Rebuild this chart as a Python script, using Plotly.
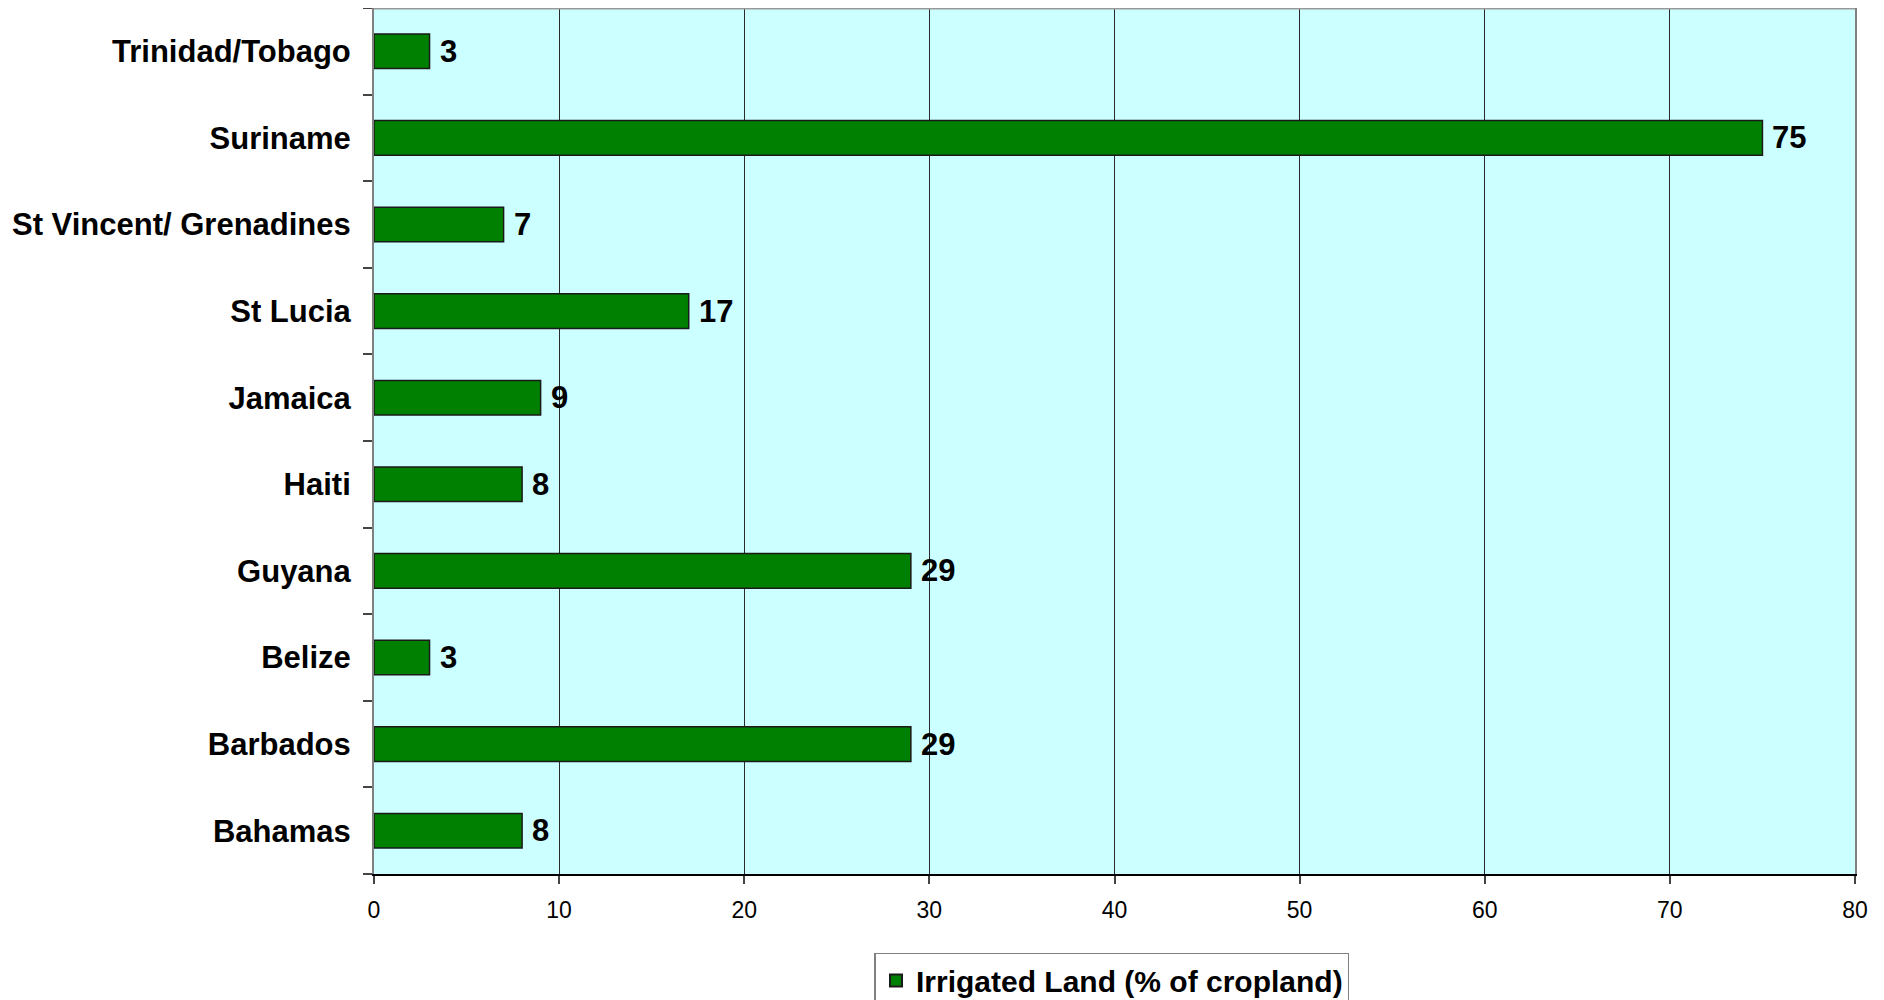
import plotly.graph_objects as go

countries = ["Bahamas", "Barbados", "Belize", "Guyana", "Haiti", "Jamaica",
             "St Lucia", "St Vincent/ Grenadines", "Suriname", "Trinidad/Tobago"]
irrigated = [8, 29, 3, 29, 8, 9, 17, 7, 75, 3]
series_name = "Irrigated Land (% of cropland)"
x_ticks = [0, 10, 20, 30, 40, 50, 60, 70, 80]

FONT = "Liberation Sans, Arial, sans-serif"

fig = go.Figure()
fig.add_trace(go.Bar(
    y=countries, x=irrigated, orientation="h", name=series_name,
    marker=dict(color="#008000", line=dict(color="#1a1a1a", width=1.5)),
    width=0.4, showlegend=True,
))

for c, v in zip(countries, irrigated):
    fig.add_annotation(x=v, y=c, text=str(v), showarrow=False, xanchor="left",
                       xshift=8, font=dict(family=FONT, size=31, color="black", weight="bold"))

fig.add_shape(type="line", xref="paper", yref="paper", x0=0, x1=1, y0=1, y1=1,
              line=dict(color="#999999", width=3))

# the page body has an 8px margin: figure is sized/offset to compensate
fig.update_layout(
    width=1876, height=992,
    margin=dict(l=366, r=29, t=0, b=126, autoexpand=False),
    paper_bgcolor="white", plot_bgcolor="#CCFFFF",
    font=dict(family=FONT, color="black"),
    showlegend=True,
    legend=dict(orientation="h", x=0.4983, xanchor="center", y=-0.0912, yanchor="top",
                bordercolor="#808080", borderwidth=1.5, bgcolor="white",
                font=dict(family=FONT, size=30, color="black", weight="bold"),
                itemsizing="constant"),
    xaxis=dict(range=[0, 80], tickvals=x_ticks, showgrid=True, gridcolor="#2a2a2a",
               gridwidth=1, showline=True, linecolor="black", linewidth=2,
               ticks="outside", ticklen=8, tickcolor="#444444", tickwidth=1.5,
               tickfont=dict(family=FONT, size=23, color="black"), zeroline=False,
               ticklabelstandoff=6),
    yaxis=dict(type="category", categoryorder="array", categoryarray=countries,
               showline=True, linecolor="#808080", linewidth=2, mirror=True,
               ticks="outside", ticklen=9, tickcolor="#444444", tickwidth=1.5,
               tickson="boundaries", showgrid=False,
               tickfont=dict(family=FONT, size=31, color="black", weight="bold"),
               ticklabelstandoff=15),
)

fig.write_html("out.html")
